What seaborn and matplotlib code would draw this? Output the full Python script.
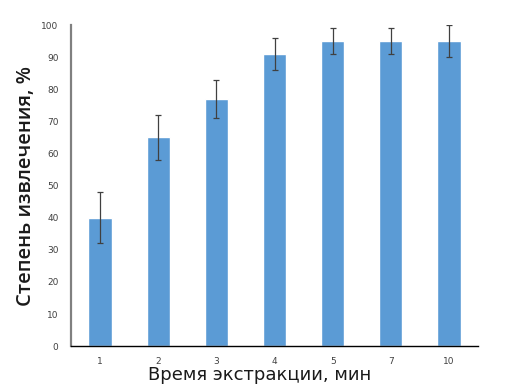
import numpy as np
import pandas as pd
import matplotlib
matplotlib.use('Agg')
import matplotlib.pyplot as plt
import seaborn as sns

times = ['1', '2', '3', '4', '5', '7', '10']
recovery = [40, 65, 77, 91, 95, 95, 95]
errors = [8, 7, 6, 5, 4, 4, 5]

df = pd.DataFrame({'time': times, 'recovery': recovery})

sns.set_style('white')
plt.rcParams['font.family'] = ['DejaVu Sans']

fig = plt.figure(figsize=(5.05, 3.92), dpi=100)
ax = fig.add_axes([0.1406, 0.117, 0.806, 0.819])

sns.barplot(data=df, x='time', y='recovery', order=times, color='#5B9BD5',
            saturation=1, width=0.4, errorbar=None, ax=ax)
ax.errorbar(np.arange(len(times)), recovery, yerr=errors, fmt='none',
            ecolor='#404040', elinewidth=0.9, capsize=2, capthick=0.9)

ax.set_ylim(0, 100)
ax.set_xlim(-0.5, len(times) - 0.5)
ax.set_yticks(range(0, 101, 10))
ax.tick_params(axis='y', length=0, labelsize=6.5, labelcolor='#404040', pad=9)
ax.tick_params(axis='x', length=0, labelsize=6.5, labelcolor='#404040', pad=8)

sns.despine(ax=ax)
ax.spines['left'].set_color('#808080')
ax.spines['left'].set_linewidth(1.6)
ax.spines['bottom'].set_color('black')
ax.spines['bottom'].set_linewidth(1.0)

ax.set_xlabel('Время экстракции, мин', fontsize=13, color='#1a1a1a')
ax.set_ylabel('Степень извлечения, %', fontsize=14.5, fontweight='semibold',
              family=['Open Sans', 'DejaVu Sans'], color='#1a1a1a')
ax.xaxis.set_label_coords(0.464, -0.062)
ax.yaxis.set_label_coords(-0.085, 0.5)

fig.savefig('out.png', dpi=100)
